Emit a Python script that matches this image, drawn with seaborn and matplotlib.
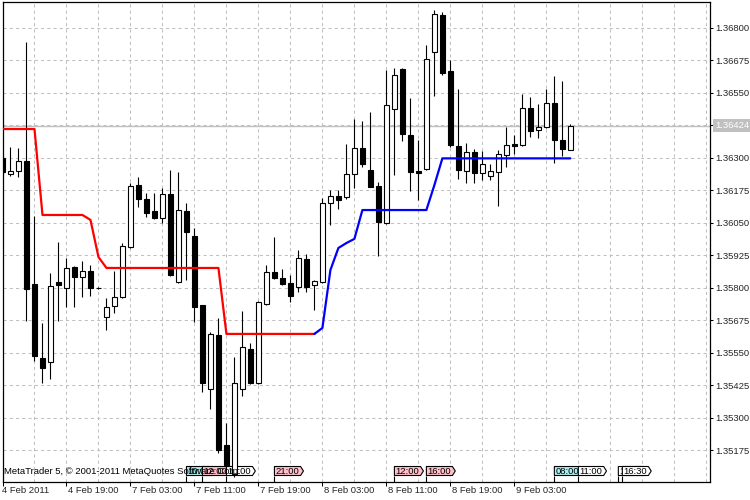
import numpy as np
import pandas as pd
import matplotlib
matplotlib.use("Agg")
import matplotlib.pyplot as plt
import seaborn as sns
from matplotlib.path import Path

# ---------------- data (EURUSD-like H1 candles, 4-9 Feb 2011) ----------------
open_ = [1.36299, 1.36238, 1.36249, 1.36288, 1.35814, 1.35529, 1.35514, 1.35822, 1.35799, 1.35880,
         1.35841, 1.35864, 1.35799, 1.35687, 1.35729, 1.35764, 1.35957, 1.36195, 1.36142, 1.36095,
         1.36068, 1.36161, 1.35822, 1.36095, 1.35999, 1.35733, 1.35410, 1.35618, 1.35194, 1.35083,
         1.35410, 1.35564, 1.35433, 1.35737, 1.35860, 1.35837, 1.35818, 1.35803, 1.35910, 1.35810,
         1.35822, 1.36126, 1.36153, 1.36149, 1.36238, 1.36338, 1.36253, 1.36192, 1.36049, 1.36488,
         1.36642, 1.36388, 1.36249, 1.36257, 1.36708, 1.36850, 1.36634, 1.36346, 1.36249, 1.36322,
         1.36242, 1.36230, 1.36245, 1.36311, 1.36353, 1.36349, 1.36492, 1.36407, 1.36419, 1.36511,
         1.36369, 1.36330]
high = [1.36307, 1.36342, 1.36338, 1.36746, 1.36076, 1.35664, 1.35857, 1.35976, 1.35914, 1.35884,
        1.35903, 1.35887, 1.35801, 1.35760, 1.35864, 1.35972, 1.36203, 1.36226, 1.36165, 1.36165,
        1.36184, 1.36253, 1.36245, 1.36126, 1.36030, 1.35733, 1.35629, 1.35683, 1.35279, 1.35533,
        1.35710, 1.35587, 1.35749, 1.35887, 1.35995, 1.35872, 1.35849, 1.35945, 1.35930, 1.35830,
        1.36145, 1.36176, 1.36176, 1.36353, 1.36450, 1.36442, 1.36477, 1.36207, 1.36638, 1.36646,
        1.36646, 1.36530, 1.36369, 1.36735, 1.36869, 1.36862, 1.36677, 1.36565, 1.36357, 1.36334,
        1.36326, 1.36276, 1.36330, 1.36419, 1.36388, 1.36546, 1.36534, 1.36507, 1.36565, 1.36615,
        1.36596, 1.36430]
low = [1.36238, 1.36230, 1.36226, 1.35672, 1.35518, 1.35433, 1.35448, 1.35672, 1.35726, 1.35726,
       1.35764, 1.35768, 1.35795, 1.35637, 1.35703, 1.35760, 1.35953, 1.36111, 1.36072, 1.36065,
       1.36049, 1.35845, 1.35818, 1.35830, 1.35668, 1.35398, 1.35333, 1.35163, 1.35102, 1.35071,
       1.35383, 1.35429, 1.35429, 1.35733, 1.35833, 1.35810, 1.35745, 1.35783, 1.35783, 1.35714,
       1.35818, 1.36041, 1.36103, 1.36142, 1.36184, 1.36265, 1.36188, 1.35922, 1.36045, 1.36234,
       1.36365, 1.36172, 1.36138, 1.36253, 1.36538, 1.36619, 1.36342, 1.36219, 1.36203, 1.36203,
       1.36215, 1.36215, 1.36115, 1.36265, 1.36315, 1.36346, 1.36380, 1.36376, 1.36415, 1.36280,
       1.36307, 1.36330]
close = [1.36245, 1.36249, 1.36288, 1.35795, 1.35537, 1.35491, 1.35807, 1.35810, 1.35876, 1.35841,
         1.35864, 1.35799, 1.35797, 1.35726, 1.35764, 1.35960, 1.36192, 1.36142, 1.36088, 1.36068,
         1.36161, 1.35849, 1.36099, 1.36014, 1.35726, 1.35433, 1.35622, 1.35175, 1.35113, 1.35433,
         1.35572, 1.35433, 1.35745, 1.35860, 1.35837, 1.35814, 1.35768, 1.35914, 1.35803, 1.35826,
         1.36126, 1.36153, 1.36138, 1.36238, 1.36338, 1.36276, 1.36188, 1.36053, 1.36504, 1.36619,
         1.36392, 1.36245, 1.36241, 1.36681, 1.36854, 1.36627, 1.36349, 1.36253, 1.36322, 1.36242,
         1.36276, 1.36249, 1.36315, 1.36349, 1.36346, 1.36492, 1.36403, 1.36419, 1.36511, 1.36369,
         1.36334, 1.36424]
indicator = [1.36411, 1.36411, 1.36411, 1.36411, 1.36411, 1.36080, 1.36080, 1.36080, 1.36080, 1.36080,
             1.36080, 1.36061, 1.35918, 1.35876, 1.35876, 1.35876, 1.35876, 1.35876, 1.35876, 1.35876,
             1.35876, 1.35876, 1.35876, 1.35876, 1.35876, 1.35876, 1.35876, 1.35876, 1.35622, 1.35622,
             1.35622, 1.35622, 1.35622, 1.35622, 1.35622, 1.35622, 1.35622, 1.35622, 1.35622, 1.35622,
             1.35645, 1.35868, 1.35953, 1.35972, 1.35988, 1.36099, 1.36099, 1.36099, 1.36099, 1.36099,
             1.36099, 1.36099, 1.36099, 1.36099, 1.36195, 1.36298, 1.36298, 1.36298, 1.36298, 1.36298,
             1.36298, 1.36298, 1.36298, 1.36298, 1.36298, 1.36298, 1.36298, 1.36298, 1.36298, 1.36298,
             1.36298, 1.36298]
trend_switch = 39  # bar where the line turns from red (down) to blue (up)

time_tick_pos = [0, 8, 16, 24, 32, 40, 48, 56, 64]
time_tick_labels = ["4 Feb 2011", "4 Feb 19:00", "7 Feb 03:00", "7 Feb 11:00", "7 Feb 19:00",
                    "8 Feb 03:00", "8 Feb 11:00", "8 Feb 19:00", "9 Feb 03:00"]
price_ticks = [1.35175, 1.35300, 1.35425, 1.35550, 1.35675, 1.35800, 1.35925,
               1.36050, 1.36175, 1.36300, 1.36425, 1.36550, 1.36675, 1.36800]
price_tick_labels = ["1.35175", "1.35300", "1.35425", "1.35550", "1.35675", "1.35800", "1.35925",
                     "1.36050", "1.36175", "1.36300", "1.36425", "1.36550", "1.36675", "1.36800"]
last_price = 1.36424

event_pos = [23, 25, 28, 34, 49, 53, 69, 72, 77, 77.5]
event_labels = ["10:00", "12:00", "15:00", "21:00", "12:00", "16:00", "08:00", "11:00", "16:00", "16:30"]
event_colors = ["#AEEEEE", "#FFC0CB", "white", "#FFC0CB", "#FFC0CB", "#FFC0CB",
                "#AEEEEE", "white", "white", "white"]

# ---------------- style ----------------
sns.set_style("white")
plt.rcParams["font.family"] = ["Liberation Sans", "DejaVu Sans"]
plt.rcParams["axes.edgecolor"] = "black"
FS = 6.8

W, H = 750, 500
fig = plt.figure(figsize=(W / 100, H / 100), dpi=100)
ax_l, ax_r, ax_t, ax_b = 2.5, 710.0, 2.0, 482.0
ax = fig.add_axes([ax_l / W, (H - ax_b) / H, (ax_r - ax_l) / W, (ax_b - ax_t) / H])

idx = np.arange(len(open_))
o = np.array(open_); c = np.array(close); hi = np.array(high); lo = np.array(low)

# grid + current price line
ax.set_axisbelow(True)
ax.axhline(last_price, color="#C0C0C0", lw=1.0, zorder=1.5)

# candles
up = c >= o
ax.vlines(idx, lo, hi, color="black", lw=0.8, zorder=3)
ax.bar(idx, np.abs(c - o), bottom=np.minimum(o, c), width=0.55,
       color=np.where(up, "white", "black"), edgecolor="black", linewidth=0.8, zorder=4)

# indicator line via seaborn
df = pd.DataFrame({"bar": idx, "value": indicator})
sns.lineplot(data=df.iloc[:trend_switch + 1], x="bar", y="value", color="#FF0000",
             linewidth=1.6, estimator=None, sort=False, legend=False, ax=ax, zorder=5)
sns.lineplot(data=df.iloc[trend_switch:], x="bar", y="value", color="#0000FF",
             linewidth=1.6, estimator=None, sort=False, legend=False, ax=ax, zorder=5)

# axes limits
ax.set_xlim((ax_l - 2.3) / 8.0, (ax_r - 2.3) / 8.0)
ax.set_ylim(1.350518, 1.369001)
ax.set_xlabel("")
ax.set_ylabel("")

# x ticks / grid
ax.set_xticks(time_tick_pos)
ax.set_xticks(np.arange(0, 89, 4), minor=True)
ax.tick_params(axis="x", which="major", direction="out", length=3, width=0.75,
               bottom=True, labelbottom=False, color="black")
ax.tick_params(axis="x", which="minor", length=0)
grid_kw = dict(color="#C0C0C0", linestyle=(0, (3, 3)), lw=0.75)
ax.xaxis.grid(True, which="both", **grid_kw)

# y ticks on the right
ax.set_yticks(price_ticks)
ax.set_yticklabels(price_tick_labels)
ax.yaxis.tick_right()
ax.tick_params(axis="y", direction="out", length=2.5, width=0.75, labelsize=FS, pad=1.5,
               right=True, left=False, labelright=True, labelleft=False, color="black")
ax.yaxis.grid(True, **grid_kw)

for s in ax.spines.values():
    s.set_color("black")
    s.set_linewidth(0.9)

# time labels (left aligned to the right of each tick)
for i, (p, lab) in enumerate(zip(time_tick_pos, time_tick_labels)):
    ax.annotate(lab, xy=(p, 0), xycoords=("data", "axes fraction"),
                xytext=(-0.5 if i == 0 else 2, -4), textcoords="offset pixels",
                ha="left", va="top", fontsize=FS, annotation_clip=False)

# current price label
ax.annotate(f"{last_price:.5f}", xy=(1, last_price), xycoords=("axes fraction", "data"),
            xytext=(5, 0), textcoords="offset pixels", ha="left", va="center",
            fontsize=FS, color="white", annotation_clip=False,
            bbox=dict(boxstyle="square,pad=0.2", fc="#C0C0C0", ec="none"))


# event tags
def tag_shape(x0, y0, width, height, mutation_size):
    p = 1.2
    x0 -= p
    width += 2 * p
    tip = height * 0.32
    verts = [(x0, y0), (x0 + width, y0), (x0 + width + tip, y0 + height / 2),
             (x0 + width, y0 + height), (x0, y0 + height), (x0, y0)]
    codes = [Path.MOVETO] + [Path.LINETO] * 4 + [Path.CLOSEPOLY]
    return Path(verts, codes)


xt = ax.get_xaxis_transform()
tag_h = 6.0 / (ax_b - ax_t)
for k, (p, lab, col) in enumerate(zip(event_pos, event_labels, event_colors)):
    ax.vlines(p, 0, tag_h, transform=xt, color="black", lw=0.8, zorder=2.6 + k * 0.01)
    ax.annotate(lab, xy=(p, 0), xycoords=("data", "axes fraction"),
                xytext=(1.2, 11), textcoords="offset pixels", ha="left", va="center",
                fontsize=FS, color="black", annotation_clip=False, zorder=2.6 + k * 0.01,
                bbox=dict(boxstyle=tag_shape, fc=col, ec="black", lw=0.8))

# copyright
ax.annotate("MetaTrader 5, © 2001-2011 MetaQuotes Software Corp.", xy=(0, 0),
            xycoords="axes fraction", xytext=(2, 11), textcoords="offset pixels",
            ha="left", va="center", fontsize=FS, color="black", zorder=10,
            annotation_clip=False)

fig.savefig("out.png", dpi=100, facecolor="white")
